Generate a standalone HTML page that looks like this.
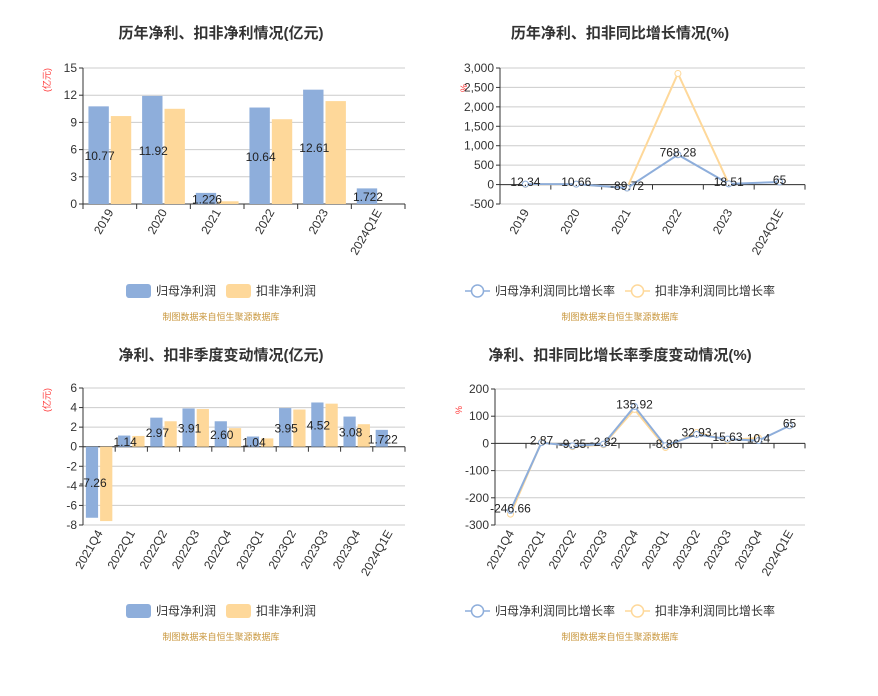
<!DOCTYPE html>
<html><head><meta charset="utf-8">
<style>
body{margin:0;background:#fff;font-family:"Liberation Sans","Noto Sans CJK SC",sans-serif;}
svg text{font-family:"Liberation Sans","Noto Sans CJK SC",sans-serif;}
</style></head>
<body>
<svg id="s" width="878" height="691" xmlns="http://www.w3.org/2000/svg"></svg>
<script>
const yearCats=["2019","2020","2021","2022","2023","2024Q1E"];
const yearProfit=[10.77,11.92,1.226,10.64,12.61,1.722];
const yearDeduct=[9.7,10.5,0.3,9.35,11.35,null];
const yearProfitLabels=["10.77","11.92","1.226","10.64","12.61","1.722"];
const yearProfitGrowth=[12.34,10.66,-89.72,768.28,18.51,65];
const yearDeductGrowth=[5,10,-90,2860,20,null];
const yearGrowthLabels=["12.34","10.66","-89.72","768.28","18.51","65"];
const qCats=["2021Q4","2022Q1","2022Q2","2022Q3","2022Q4","2023Q1","2023Q2","2023Q3","2023Q4","2024Q1E"];
const qProfit=[-7.26,1.14,2.97,3.91,2.60,1.04,3.95,4.52,3.08,1.722];
const qDeduct=[-7.6,1.1,2.6,3.85,1.9,0.85,3.8,4.4,2.3,null];
const qProfitLabels=["-7.26","1.14","2.97","3.91","2.60","1.04","3.95","4.52","3.08","1.722"];
const qProfitGrowth=[-246.66,2.87,-9.35,-2.82,135.92,-8.86,32.93,15.63,10.4,65];
const qDeductGrowth=[-260,5,-12,-5,125,-15,40,12,20,null];
const qGrowthLabels=["-246.66","2.87","-9.35","-2.82","135.92","-8.86","32.93","15.63","10.4","65"];
const tick1=[0,3,6,9,12,15], tick2=[-500,0,500,1000,1500,2000,2500,3000];
const tick3=[-8,-6,-4,-2,0,2,4,6], tick4=[-300,-200,-100,0,100,200];

const S=document.getElementById('s');
const NS='http://www.w3.org/2000/svg';
function mk(tag,attrs,parent){const e=document.createElementNS(NS,tag);for(const k in attrs)e.setAttribute(k,attrs[k]);(parent||S).appendChild(e);return e;}
function txt(str,attrs,parent){const e=mk('text',attrs,parent);e.textContent=str;return e;}

function axes(g,cfg){
  const {x0,x1,yTop,yBot,ticks,cats,fmt}=cfg;
  const min=ticks[0],max=ticks[ticks.length-1];
  const y=v=>yBot-(v-min)/(max-min)*(yBot-yTop);
  const bw=(x1-x0)/cats.length;
  ticks.forEach(t=>{
    const gl=mk('line',{x1:x0,x2:x1,y1:y(t),y2:y(t),stroke:'#ccc','stroke-width':1},g);
    
    
    const tl=txt(fmt?fmt(t):String(t),{x:x0-6,y:y(t)+4,'text-anchor':'end','font-size':12,fill:'#333'},g);
    
    
    mk('line',{x1:x0-4,x2:x0,y1:y(t),y2:y(t),stroke:'#333'},g);
  });
  mk('line',{x1:x0,x2:x0,y1:yTop,y2:yBot,stroke:'#333'},g);
  const zl=mk('line',{x1:x0,x2:x1,y1:y(0),y2:y(0),stroke:'#333'},g);
  
  
  for(let i=0;i<=cats.length;i++){mk('line',{x1:x0+i*bw,x2:x0+i*bw,y1:y(0),y2:y(0)+5,stroke:'#333'},g);}
  cats.forEach((c,i)=>{
    const cx=x0+(i+0.5)*bw, ty=yBot+8;
    const l=txt(c,{x:cx+4,y:ty,'text-anchor':'end','font-size':12,fill:'#333',transform:`rotate(-60 ${cx+4} ${ty})`},g);
    
    
  });
  return {y,bw};
}
function bars(cfg){
  const g=mk('g',{});
  
  
  const {y,bw}=axes(g,cfg);
  const w=bw*0.38;
  cfg.cats.forEach((c,i)=>{
    const cx=cfg.x0+i*bw+bw/2;
    const a=cfg.s1[i], b=cfg.s2[i];
    if(a!=null){const r=mk('rect',{x:cx-w-1,y:Math.min(y(a),y(0)),width:w,height:Math.abs(y(a)-y(0)),fill:'#8eaedb'},g);
      
      }
    if(b!=null){const r=mk('rect',{x:cx+1,y:Math.min(y(b),y(0)),width:w,height:Math.abs(y(b)-y(0)),fill:'#fed89a'},g);
      
      }
    const t=txt(cfg.labels[i],{x:cx-w/2,y:(y(a)+y(0))/2+5,'text-anchor':'middle','font-size':12,fill:'#222'},g);
    
    
  });
}
function lines(cfg){
  const g=mk('g',{});
  
  
  const {y,bw}=axes(g,cfg);
  const X=i=>cfg.x0+(i+0.5)*bw;
  [[cfg.s2,'#fed89a'],[cfg.s1,'#8eaedb']].forEach(([s,col],k)=>{
    let d='';s.forEach((v,i)=>{if(v!=null)d+=(d?'L':'M')+X(i)+' '+y(v);});
    const p=mk('path',{d,fill:'none',stroke:col,'stroke-width':2},g);
    
    
    s.forEach((v,i)=>{if(v!=null){const c=mk('circle',{cx:X(i),cy:y(v),r:3,fill:'#fff',stroke:col,'stroke-width':1},g);
      
      }});
  });
  cfg.s1.forEach((v,i)=>{const t=txt(cfg.labels[i],{x:X(i),y:y(v)+2,'text-anchor':'middle','font-size':12,fill:'#222'},g);
    
    });
}
function title(str,x,y){const t=txt(str,{x,y,'text-anchor':'middle','font-size':15,'font-weight':'bold',fill:'#333'});
  
  }
function unit(str,x,y){const t=txt(str,{x,y,'text-anchor':'middle','font-size':9,fill:'#f33',transform:`rotate(-90 ${x} ${y})`});
  
  }
function legend(cx,y,kind,labs){
  const g=mk('g',{});
  
  
  const cols=['#8eaedb','#fed89a'];
  const xs=kind==='bar'?[cx-95,cx+5]:[cx-155,cx+5];
  labs.forEach((l,i)=>{
    const e=mk('g',{},g);
    
    
    if(kind==='bar')mk('rect',{x:xs[i],y:y-7,width:25,height:14,rx:3,fill:cols[i]},e);
    else{mk('line',{x1:xs[i],x2:xs[i]+25,y1:y,y2:y,stroke:cols[i],'stroke-width':1.5},e);mk('circle',{cx:xs[i]+12.5,cy:y,r:6,fill:'#fff',stroke:cols[i],'stroke-width':1.5},e);}
    txt(l,{x:xs[i]+30,y:y+4,'font-size':12,fill:'#333'},e);
  });
}
function source(x,y){const t=txt('制图数据来自恒生聚源数据库',{x,y,'text-anchor':'middle','font-size':9,fill:'#c8963c'});
  
  }

title('历年净利、扣非净利情况(亿元)',221,38);
title('历年净利、扣非同比增长情况(%)',620,38);
title('净利、扣非季度变动情况(亿元)',221,360);
title('净利、扣非同比增长率季度变动情况(%)',620,360);
unit('(亿元)',50,80);unit('%',467,88);unit('(亿元)',50,400);unit('%',462,410);

bars({name:'annual-profit-chart',x0:83,x1:405,yTop:68,yBot:204,ticks:tick1,cats:yearCats,s1:yearProfit,s2:yearDeduct,labels:yearProfitLabels});
lines({name:'annual-growth-chart',x0:500,x1:805,yTop:68,yBot:204,ticks:tick2,cats:yearCats,s1:yearProfitGrowth,s2:yearDeductGrowth,labels:yearGrowthLabels,fmt:v=>v.toLocaleString('en-US')});
bars({name:'quarterly-profit-chart',x0:83,x1:405,yTop:388,yBot:525,ticks:tick3,cats:qCats,s1:qProfit,s2:qDeduct,labels:qProfitLabels});
lines({name:'quarterly-growth-chart',x0:495,x1:805,yTop:389,yBot:525,ticks:tick4,cats:qCats,s1:qProfitGrowth,s2:qDeductGrowth,labels:qGrowthLabels});

legend(221,291,'bar',['归母净利润','扣非净利润']);
legend(620,291,'line',['归母净利润同比增长率','扣非净利润同比增长率']);
legend(221,611,'bar',['归母净利润','扣非净利润']);
legend(620,611,'line',['归母净利润同比增长率','扣非净利润同比增长率']);
source(221,320);source(620,320);source(221,640);source(620,640);
</script>
</body></html>
